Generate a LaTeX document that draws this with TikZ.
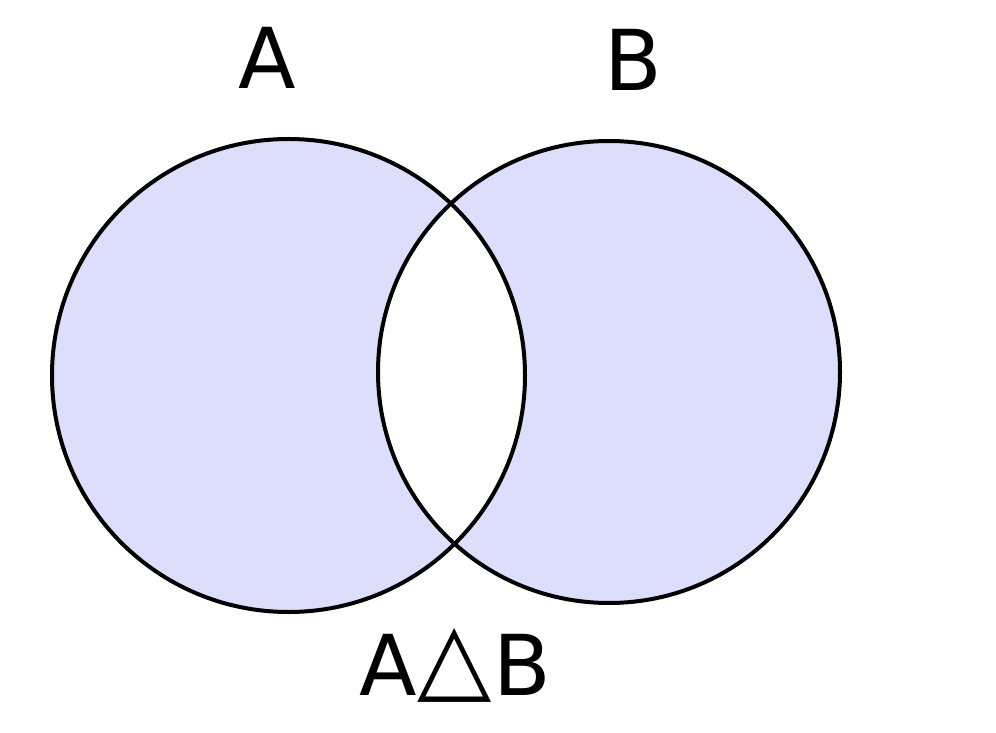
\documentclass[tikz,border=0pt]{standalone}
\usepackage{fontspec}
\usepackage{graphicx}
\setmainfont{DejaVu Sans}
\definecolor{setfill}{RGB}{221,221,252}
\tikzset{
  setcircle/.style={draw=black, line width=4pt},
  setlabel/.style={font=\fontsize{84}{84}\selectfont, inner sep=0pt, text=black}
}
\begin{document}
\begin{tikzpicture}[x=1pt,y=1pt]
\useasboundingbox[fill=white] (0,0) rectangle (996,732);
\fill[setfill, even odd rule] (288.5,356.5) circle (236.5) (609,360) circle (231);
\node[setcircle, circle, minimum size=473pt, inner sep=0pt] (A) at (288.5,356.5) {};
\node[setcircle, circle, minimum size=462pt, inner sep=0pt] (B) at (609,360) {};
\node[setlabel] (la) at (267,674) {A};
\node[setlabel] (lb) at (633,672) {B};
\node[setlabel] (lab) at (455,67) {A\kern1pt\raisebox{5pt}{\scalebox{1.15}{△}}\kern1pt B};
\end{tikzpicture}
\end{document}
